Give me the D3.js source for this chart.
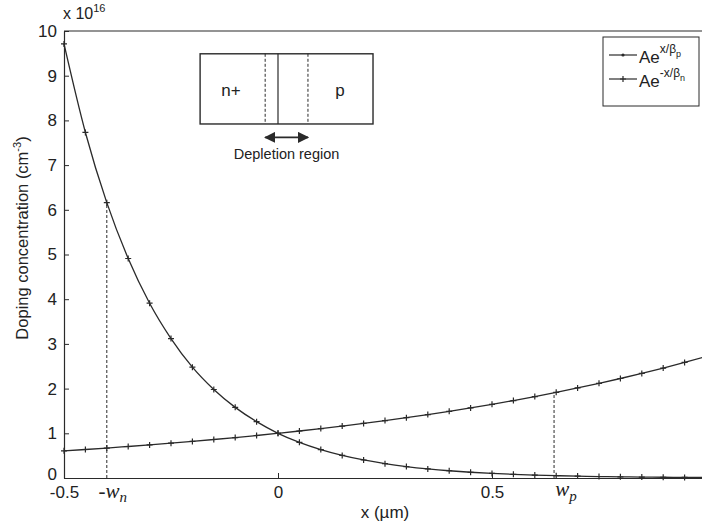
<html>
<meta charset="utf-8" />
<head>
<style>
body { margin: 0; background: #fff; }
svg { display: block; }
svg text { font-family: "Liberation Sans", Arial, sans-serif; fill: #222; }
.tick text { font-size: 17px; }
.math { font-family: "Liberation Serif", "DejaVu Serif", serif; font-style: italic; font-size: 21px; }
</style>
<script src="https://d3js.org/d3.v7.min.js"></script>
</head>
<body>
<svg class="chart"></svg>
<script>
var chartWidth = 702;
var chartHeight = 527;

/********
 * Data *
 ********/
var xs = [-0.5, -0.45, -0.4, -0.35, -0.3, -0.25, -0.2, -0.15, -0.1, -0.05, 0,
          0.05, 0.1, 0.15, 0.2, 0.25, 0.3, 0.35, 0.4, 0.45, 0.5,
          0.55, 0.6, 0.65, 0.7, 0.75, 0.8, 0.85, 0.9, 0.95, 1.0];
// values in units of 1e16 cm^-3
var pSide = [0.607, 0.638, 0.670, 0.705, 0.741, 0.779, 0.819, 0.861, 0.905, 0.951, 1.000,
             1.051, 1.105, 1.162, 1.221, 1.284, 1.350, 1.419, 1.492, 1.568, 1.649,
             1.733, 1.822, 1.916, 2.014, 2.117, 2.226, 2.340, 2.460, 2.586, 2.718];
var nSide = [9.71, 7.73, 6.16, 4.91, 3.91, 3.12, 2.48, 1.98, 1.58, 1.26, 1.00,
             0.797, 0.635, 0.506, 0.403, 0.321, 0.256, 0.204, 0.162, 0.129, 0.103,
             0.082, 0.065, 0.052, 0.042, 0.033, 0.026, 0.021, 0.017, 0.013, 0.011];
var xTicks = [-0.5, 0, 0.5];
var xTickLabels = ["-0.5", "0", "0.5"];
var yTicks = [0, 1, 2, 3, 4, 5, 6, 7, 8, 9, 10];
// depletion edges
var wnX = -0.4, wnY = 6.16;
var wpX = 0.645, wpY = 1.906;

/**********
 * Scales *
 **********/
var x = d3.scaleLinear().domain([-0.5, 1.0]).range([64, 706]);
var y = d3.scaleLinear().domain([0, 10]).range([478, 31]);

var svg = d3.select(".chart")
    .attr("width", chartWidth)
    .attr("height", chartHeight);

var ink = "#2a2a2a";

// frame
svg.append("line").attr("x1", x(-0.5)).attr("x2", x(1)).attr("y1", y(10)).attr("y2", y(10))
    .attr("stroke", ink).attr("stroke-width", 1.2);

// y axis (ticks pointing inward)
var yAxisG = svg.append("g")
    .attr("transform", "translate(" + x(-0.5) + ",0)")
    .call(d3.axisLeft(y).tickValues(yTicks).tickSize(-5).tickPadding(7).tickSizeOuter(0));
yAxisG.select(".domain").attr("stroke", ink).attr("stroke-width", 1.2);
yAxisG.selectAll(".tick line").attr("stroke", ink);
yAxisG.selectAll(".tick text").attr("fill", ink);
// the 0 label sits tight against -0.5 below it; lift it a little
yAxisG.selectAll(".tick text").filter(function(d) { return d === 0; }).attr("y", -4);

// x axis
var xAxisG = svg.append("g")
    .attr("transform", "translate(0," + y(0) + ")")
    .call(d3.axisBottom(x).tickValues(xTicks).tickSize(-5).tickPadding(8).tickSizeOuter(0)
      .tickFormat(function(d, i) { return xTickLabels[i]; }));
xAxisG.select(".domain").attr("stroke", ink).attr("stroke-width", 1.2);
xAxisG.selectAll(".tick line").attr("stroke", ink);
xAxisG.selectAll(".tick text").attr("fill", ink);

// exponent
var ex = svg.append("text").attr("x", x(-0.5) - 1).attr("y", 19).style("font-size", "16px");
ex.append("tspan").text("x 10");
ex.append("tspan").attr("dy", -7).style("font-size", "11px").text("16");

// axis titles
svg.append("text")
    .attr("x", x(0.25)).attr("y", 518)
    .attr("text-anchor", "middle").style("font-size", "17px")
    .text("x (\u00b5m)");

var yl = svg.append("text")
    .attr("transform", "translate(28,238) rotate(-90)")
    .attr("text-anchor", "middle").style("font-size", "16.5px");
yl.append("tspan").text("Doping concentration (cm");
yl.append("tspan").attr("dy", -7).style("font-size", "11px").text("-3");
yl.append("tspan").attr("dy", 7).text(")");

// depletion edge markers
svg.append("line").attr("x1", x(wnX)).attr("x2", x(wnX)).attr("y1", y(0)).attr("y2", y(wnY))
    .attr("stroke", ink).attr("stroke-dasharray", "3,2");
svg.append("line").attr("x1", x(wpX)).attr("x2", x(wpX)).attr("y1", y(0)).attr("y2", y(wpY))
    .attr("stroke", ink).attr("stroke-dasharray", "3,2");

var wn = svg.append("text").attr("class", "math").attr("x", x(wnX) + 6).attr("y", 498).attr("text-anchor", "middle");
wn.append("tspan").text("-w");
wn.append("tspan").attr("dy", 4).style("font-size", "15px").text("n");
var wp = svg.append("text").attr("class", "math").attr("x", x(wpX) + 12).attr("y", 496).attr("text-anchor", "middle");
wp.append("tspan").text("w");
wp.append("tspan").attr("dy", 5).style("font-size", "15px").text("p");

// curves
var line = d3.line()
    .x(function(d) { return x(d[0]); })
    .y(function(d) { return y(d[1]); })
    .curve(d3.curveMonotoneX);

function drawSeries(vals) {
  var pts = xs.map(function(v, i) { return [v, vals[i]]; });
  svg.append("path").datum(pts)
      .attr("fill", "none").attr("stroke", ink).attr("stroke-width", 1.3)
      .attr("d", line);
  svg.append("g").selectAll("path").data(pts).enter().append("path")
      .attr("d", function(d) {
        var cx = x(d[0]), cy = y(d[1]);
        return "M" + (cx - 3) + "," + cy + "H" + (cx + 3) + "M" + cx + "," + (cy - 3) + "V" + (cy + 3);
      })
      .attr("stroke", ink).attr("stroke-width", 1.2);
}
drawSeries(pSide);
drawSeries(nSide);

/**********
 * Legend *
 **********/
var lg = svg.append("g");
lg.append("rect").attr("x", 603).attr("y", 37).attr("width", 96).attr("height", 69)
    .attr("fill", "#fff").attr("stroke", ink).attr("stroke-width", 1);
var entries = [
  { sup: "x/\u03b2", sub: "p", y: 55, dot: true },
  { sup: "-x/\u03b2", sub: "n", y: 79, dot: false }
];
entries.forEach(function(e) {
  lg.append("line").attr("x1", 609).attr("x2", 637).attr("y1", e.y).attr("y2", e.y)
      .attr("stroke", ink).attr("stroke-width", 1.2);
  if (e.dot) {
    lg.append("circle").attr("cx", 623).attr("cy", e.y).attr("r", 1.6).attr("fill", ink);
  } else {
    lg.append("path").attr("d", "M620," + e.y + "H626M623," + (e.y - 3) + "V" + (e.y + 3))
        .attr("stroke", ink).attr("stroke-width", 1.2);
  }
  var t = lg.append("text").attr("x", 639).attr("y", e.y + 8).style("font-size", "17px");
  t.append("tspan").text("Ae");
  t.append("tspan").attr("dy", -10).style("font-size", "12px").text(e.sup);
  t.append("tspan").attr("dy", 4).style("font-size", "9px").text(e.sub);
});

/*********
 * Inset *
 *********/
var inset = svg.append("g");
inset.append("rect")
    .attr("x", x(-0.182)).attr("y", y(9.49))
    .attr("width", x(0.222) - x(-0.182)).attr("height", y(7.92) - y(9.49))
    .attr("fill", "none").attr("stroke", ink).attr("stroke-width", 1.4);
inset.append("line").attr("x1", x(0)).attr("x2", x(0)).attr("y1", y(9.49)).attr("y2", y(7.92))
    .attr("stroke", ink).attr("stroke-width", 1.2);
[-0.03, 0.07].forEach(function(v) {
  inset.append("line").attr("x1", x(v)).attr("x2", x(v)).attr("y1", y(9.49)).attr("y2", y(7.92))
      .attr("stroke", ink).attr("stroke-dasharray", "3,2");
});
inset.append("text").attr("x", x(-0.11)).attr("y", y(8.55)).attr("text-anchor", "middle")
    .style("font-size", "17px").text("n+");
inset.append("text").attr("x", x(0.145)).attr("y", y(8.55)).attr("text-anchor", "middle")
    .style("font-size", "17px").text("p");

svg.append("defs").append("marker")
    .attr("id", "ah").attr("viewBox", "0 0 10 10").attr("refX", 9).attr("refY", 5)
    .attr("markerWidth", 7).attr("markerHeight", 7).attr("orient", "auto-start-reverse")
  .append("path").attr("d", "M0,0L10,5L0,10z").attr("fill", ink);
inset.append("line")
    .attr("x1", x(-0.03)).attr("x2", x(0.07)).attr("y1", y(7.62)).attr("y2", y(7.62))
    .attr("stroke", ink).attr("stroke-width", 1.6)
    .attr("marker-start", "url(#ah)").attr("marker-end", "url(#ah)");
inset.append("text").attr("x", x(0.02)).attr("y", y(7.14)).attr("text-anchor", "middle")
    .style("font-size", "14.5px").text("Depletion region");
</script>
</body>
</html>
